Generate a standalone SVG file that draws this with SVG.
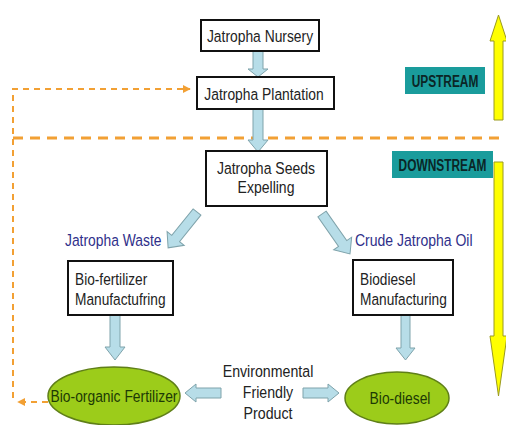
<svg xmlns="http://www.w3.org/2000/svg" width="506" height="425" viewBox="0 0 506 425">
<defs>
<style>
.box{fill:#fff;stroke:#111;stroke-width:2}
.t{font-family:"Liberation Sans",Arial,sans-serif;font-size:16.5px;fill:#222}
.lbl{font-family:"Liberation Sans",Arial,sans-serif;font-size:16.5px;fill:#2f2f8a}
.ell{fill:#9ccc1a;stroke:#5f7f18;stroke-width:1.5}
.et{font-family:"Liberation Sans",Arial,sans-serif;font-size:16.5px;fill:#1d3a05}
.ba{fill:#b7dde8;stroke:#7fa3ab;stroke-width:1}
.teal{fill:#1a9c9c}
.tt{font-family:"Liberation Sans",Arial,sans-serif;font-size:17px;font-weight:bold;fill:#0b2626}
.yel{fill:#ffff00;stroke:#9a9a20;stroke-width:1}
.dash1{fill:none;stroke:#f2a034;stroke-width:2;stroke-dasharray:6 5}
.dash2{fill:none;stroke:#f2a034;stroke-width:3;stroke-dasharray:10 7}
</style>
<marker id="oa" viewBox="0 0 10 10" refX="9" refY="5" markerWidth="4" markerHeight="4" orient="auto" markerUnits="strokeWidth">
<path d="M0,0 L10,5 L0,10 Z" fill="#f2a034"/>
</marker>
</defs>
<rect width="506" height="425" fill="#fff"/>

<g id="connectors">
<path class="dash2" d="M13,138 H506"/>
<path class="dash1" d="M13,398 V89 H190" marker-end="url(#oa)"/>
<path class="dash1" d="M48,402 H18" marker-end="url(#oa)"/>
<path class="ba" d="M253,51 H263 V69 H268 L258,77 L248,69 H253 Z"/>
<path class="ba" d="M253,109 H263 V140 H268 L258,152 L248,140 H253 Z"/>
<path class="ba" transform="translate(197,212) rotate(128.9)" d="M0,-5 H34 V-11 L46,0 L34,11 V5 H0 Z"/>
<path class="ba" transform="translate(322,214) rotate(55)" d="M0,-5 H36 V-11 L48.8,0 L36,11 V5 H0 Z"/>
<path class="ba" d="M110,315 H120 V347 H125 L115,360 L105,347 H110 Z"/>
<path class="ba" d="M401,315 H410 V348 H415 L405.5,360 L396,348 H401 Z"/>
<path class="ba" d="M221,388 V398 H196 V402 L185,393 L196,384 V388 Z"/>
<path class="ba" d="M303,388 V398 H328 V402 L339,393 L328,384 V388 Z"/>
</g>

<g id="n-nursery">
<rect class="box" x="201" y="20" width="118" height="31"/>
<text class="t" text-anchor="middle" transform="translate(260,41.5) scale(0.84,1)">Jatropha Nursery</text>
</g>
<g id="n-plantation">
<rect class="box" x="197" y="77" width="137" height="32"/>
<text class="t" text-anchor="middle" transform="translate(264,99.5) scale(0.84,1)">Jatropha Plantation</text>
</g>
<g id="n-seeds">
<rect class="box" x="206" y="151" width="121" height="55"/>
<text class="t" text-anchor="middle" transform="translate(266,174) scale(0.85,1)">Jatropha Seeds</text>
<text class="t" text-anchor="middle" transform="translate(266,193) scale(0.85,1)">Expelling</text>
</g>
<g id="l-waste">
<text class="lbl" transform="translate(65,246) scale(0.84,1)">Jatropha Waste</text>
</g>
<g id="l-oil">
<text class="lbl" transform="translate(355,246) scale(0.85,1)">Crude Jatropha Oil</text>
</g>
<g id="n-biofert">
<rect class="box" x="68" y="261" width="105" height="54"/>
<text class="t" transform="translate(75,285) scale(0.83,1)">Bio-fertilizer</text>
<text class="t" transform="translate(75,305) scale(0.83,1)">Manufactufring</text>
</g>
<g id="n-biodiesel">
<rect class="box" x="353" y="260" width="100" height="55"/>
<text class="t" transform="translate(360,285) scale(0.83,1)">Biodiesel</text>
<text class="t" transform="translate(360,305) scale(0.83,1)">Manufacturing</text>
</g>
<g id="n-organic">
<ellipse class="ell" cx="114" cy="396" rx="66" ry="29"/>
<text class="et" text-anchor="middle" transform="translate(114,402) scale(0.84,1)">Bio-organic Fertilizer</text>
</g>
<g id="n-diesel">
<ellipse class="ell" cx="397" cy="398" rx="52" ry="26"/>
<text class="et" text-anchor="middle" transform="translate(400,404) scale(0.84,1)">Bio-diesel</text>
</g>
<g id="l-env">
<text class="t" text-anchor="middle" transform="translate(268,377) scale(0.86,1)">Environmental</text>
<text class="t" text-anchor="middle" transform="translate(268,398) scale(0.86,1)">Friendly</text>
<text class="t" text-anchor="middle" transform="translate(268,419) scale(0.86,1)">Product</text>
</g>
<g id="upstream">
<rect class="teal" x="405" y="67" width="80" height="27"/>
<text class="tt" text-anchor="middle" transform="translate(445,86.5) scale(0.7,1)">UPSTREAM</text>
<path class="yel" d="M494,120 V41 H490 L498.5,15 L507,41 H503 V120 Z"/>
</g>
<g id="downstream">
<rect class="teal" x="392" y="151" width="101" height="27"/>
<text class="tt" text-anchor="middle" transform="translate(442.5,170.5) scale(0.7,1)">DOWNSTREAM</text>
<path class="yel" d="M494,162 V336 H490 L498.5,396 L507,336 H503 V162 Z"/>
</g>
</svg>
